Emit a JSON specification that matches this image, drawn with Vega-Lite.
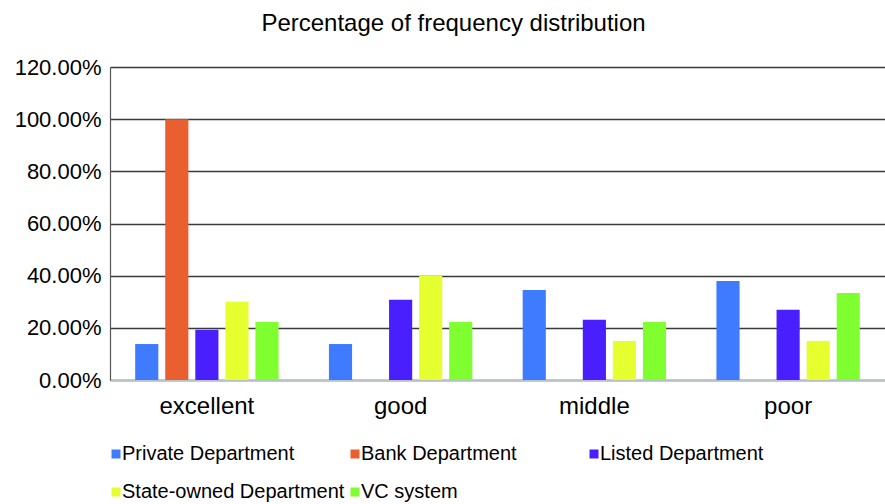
{
  "$schema": "https://vega.github.io/schema/vega-lite/v6.json",
  "width": 775,
  "height": 313,
  "autosize": {"type": "none"},
  "padding": {"left": 110, "top": 67, "right": 0, "bottom": 124},
  "background": "white",
  "title": {
    "text": "Percentage of frequency distribution",
    "font": "Liberation Sans",
    "fontSize": 24,
    "fontWeight": "normal",
    "color": "#000000",
    "anchor": "middle",
    "dx": -44,
    "offset": 20
  },
  "data": {
    "values": [
      {"rating": "excellent", "group": "Private Department", "share": 0.1379},
      {"rating": "excellent", "group": "Bank Department", "share": 1.0},
      {"rating": "excellent", "group": "Listed Department", "share": 0.1923},
      {"rating": "excellent", "group": "State-owned Department", "share": 0.30},
      {"rating": "excellent", "group": "VC system", "share": 0.2222},
      {"rating": "good", "group": "Private Department", "share": 0.1379},
      {"rating": "good", "group": "Listed Department", "share": 0.3077},
      {"rating": "good", "group": "State-owned Department", "share": 0.40},
      {"rating": "good", "group": "VC system", "share": 0.2222},
      {"rating": "middle", "group": "Private Department", "share": 0.3448},
      {"rating": "middle", "group": "Listed Department", "share": 0.2308},
      {"rating": "middle", "group": "State-owned Department", "share": 0.15},
      {"rating": "middle", "group": "VC system", "share": 0.2222},
      {"rating": "poor", "group": "Private Department", "share": 0.3793},
      {"rating": "poor", "group": "Listed Department", "share": 0.2692},
      {"rating": "poor", "group": "State-owned Department", "share": 0.15},
      {"rating": "poor", "group": "VC system", "share": 0.3333}
    ]
  },
  "mark": {"type": "bar"},
  "encoding": {
    "x": {
      "field": "rating",
      "type": "nominal",
      "sort": ["excellent", "good", "middle", "poor"],
      "scale": {"paddingInner": 0.26, "paddingOuter": 0.13},
      "axis": {
        "title": null,
        "labelAngle": 0,
        "labelFont": "Liberation Sans",
        "labelFontSize": 24,
        "labelColor": "#000000",
        "labelPadding": 14,
        "ticks": false,
        "domainColor": "#b8c0c8",
        "domainWidth": 1.5
      }
    },
    "xOffset": {
      "field": "group",
      "type": "nominal",
      "sort": ["Private Department", "Bank Department", "Listed Department", "State-owned Department", "VC system"],
      "scale": {
        "domain": ["Private Department", "Bank Department", "Listed Department", "State-owned Department", "VC system"],
        "paddingInner": 0.23,
        "paddingOuter": 0
      }
    },
    "y": {
      "field": "share",
      "type": "quantitative",
      "scale": {"domain": [0, 1.2], "nice": false},
      "axis": {
        "title": null,
        "values": [0, 0.2, 0.4, 0.6, 0.8, 1.0, 1.2],
        "format": ".2%",
        "labelFont": "Liberation Sans",
        "labelFontSize": 22,
        "labelColor": "#000000",
        "labelPadding": 9,
        "ticks": false,
        "grid": true,
        "gridColor": "#3a3a3a",
        "gridWidth": 1.4,
        "domainColor": "#555555",
        "domainWidth": 1.2
      }
    },
    "color": {
      "field": "group",
      "type": "nominal",
      "sort": ["Private Department", "Bank Department", "Listed Department", "State-owned Department", "VC system"],
      "scale": {
        "domain": ["Private Department", "Bank Department", "Listed Department", "State-owned Department", "VC system"],
        "range": ["#3f7bff", "#e95f2f", "#4a1fff", "#e5ff2f", "#80ff30"]
      },
      "legend": {
        "title": null,
        "orient": "none",
        "legendX": -4,
        "legendY": 377,
        "direction": "horizontal",
        "columns": 3,
        "gridAlign": "all",
        "columnPadding": -12,
        "rowPadding": 18,
        "padding": 0,
        "symbolType": "square",
        "symbolSize": 81,
        "symbolStrokeWidth": 0,
        "symbolOpacity": 1,
        "labelOffset": -4,
        "labelFont": "Liberation Sans",
        "labelFontSize": 20,
        "labelColor": "#000000",
        "labelLimit": 400
      }
    }
  },
  "config": {
    "view": {"stroke": null}
  }
}
